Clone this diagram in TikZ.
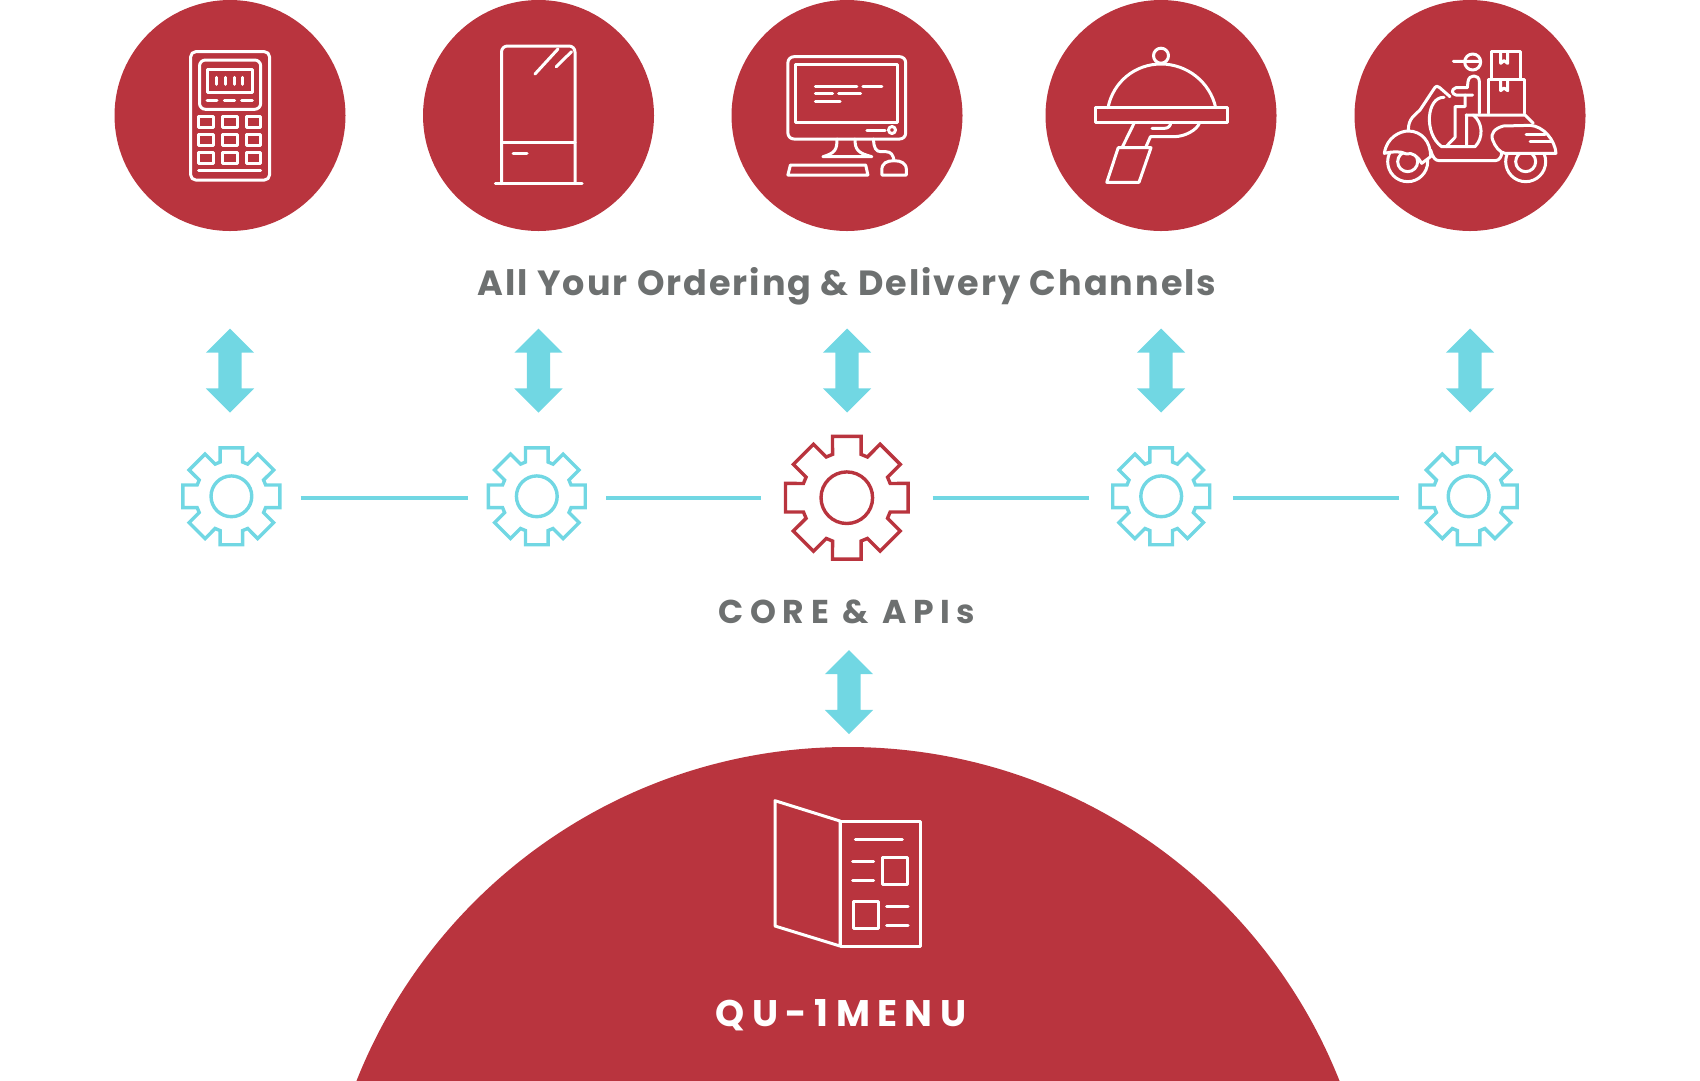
\documentclass[tikz,border=0pt]{standalone}
\usepackage{fontspec}
\setmainfont{Poppins}
\usepackage{tikz}
\usetikzlibrary{shapes.arrows}
\definecolor{qured}{HTML}{B9343E}
\definecolor{qucyan}{HTML}{71D7E3}
\definecolor{qugray}{HTML}{6D7070}
\newcommand{\gearat}[4]{\draw[shift={(#1)},yshift=#4,draw=#2,gearline] (-18.2:{36.8*#3})
	\foreach \a in {0,45,...,315} {-- ({\a-18.2}:{36.8*#3}) -- ({\a-13.1}:{50.8*#3}) -- ({\a+13.1}:{50.8*#3}) -- ({\a+18.2}:{36.8*#3})} -- cycle
	(0,0) circle ({20.8*#3});}
\begin{document}
\begin{tikzpicture}[x=1pt,y=-1pt,
	channel/.style={circle,fill=qured,minimum size=231pt,inner sep=0pt},
	twoway/.style={double arrow,fill=qucyan,rotate=90,minimum height=84pt,inner sep=11.5pt,double arrow head extend=12.5pt,double arrow tip angle=90,text width=0pt},
	gearnode/.style={circle,minimum size=#1,inner sep=0pt},
	gearline/.style={line width=3.4pt,line join=miter},
	link/.style={draw=qucyan,line width=4pt},
	icon/.style={draw=white,line width=3pt,line cap=round,line join=round},
	caption/.style={text=qugray,font=\bfseries}]
\useasboundingbox (0,0) rectangle (1700,1080);
\foreach \n/\x in {1/230,2/538.5,3/847,4/1161,5/1470}{
	\node [channel] (c\n) at (\x,115.5) {};
	\node [twoway] (a\n) at (\x,370.5) {};
}
\node [caption] (chan) at (847,286) {\fontsize{35}{40}\selectfont\addfontfeature{LetterSpace=5.7}All Your Ordering \& Delivery Channels};
\foreach \n/\x/\c/\s/\w/\d in {1/231.4/qucyan/.98/138pt/2pt,2/536.8/qucyan/.98/138pt/2pt,3/846.8/qured/1.24/171pt/.6pt,4/1161.2/qucyan/.98/144pt/2pt,5/1468.6/qucyan/.98/138pt/2pt}{
	\node [gearnode=\w] (g\n) at (\x,498.3) {};
	\gearat{g\n}{\c}{\s}{\d}
}
\draw [link] (g1) -- (g2);
\draw [link] (g2) -- (g3);
\draw [link] (g3) -- (g4);
\draw [link] (g4) -- (g5);
\node [caption] (core) at (847,611.5) {\fontsize{33}{40}\selectfont\addfontfeature{LetterSpace=20}CORE \& APIs};
\node [twoway] (a6) at (849,692) {};
\begin{scope}
\clip (0,0) rectangle (1700,1080);
\fill [qured] (848,1275.5) circle (528.5);
\end{scope}
\node [text=white,font=\bfseries] (menu) at (841,1015) {\fontsize{37}{40}\selectfont\addfontfeature{LetterSpace=20}QU-1MENU};
% calculator
\draw [icon,rounded corners=5pt] (190.7,51.7) rectangle (269.5,180);
\draw [icon,rounded corners=6pt] (199.5,60) rectangle (260.7,109.3);
\draw [icon] (207,69) rectangle (252,92.3);
\foreach \x in {216.7,225,234,242.7} \draw [icon] (\x,77.3) -- (\x,84.3);
\draw [icon] (207,100) -- (217,100) (224.4,100) -- (234.7,100) (241.6,100) -- (252.3,100);
\foreach \x in {198.7,222.5,246} \foreach \y in {116.7,134.3,152} \draw [icon] (\x,\y) rectangle ++(14.5,11);
\draw [icon] (198.7,170) -- (260.7,170);
% kiosk
\draw [icon,rounded corners=6pt] (501.5,183.5) -- (501.5,46) -- (575,46) -- (575,183.5);
\draw [icon] (501.5,142.3) -- (575,142.3) (513,153.7) -- (527,153.7) (495.3,183.7) -- (582.2,183.7);
\draw [icon] (558,49) -- (535,74) (571.5,51.7) -- (556.2,66.7);
% monitor
\draw [icon,rounded corners=6pt] (787.9,56.7) rectangle (905.7,139);
\draw [icon] (795.4,64) rectangle (897.5,122.3);
\draw [icon] (815.4,86) -- (856.8,86) (862.9,86) -- (881.8,86) (815.4,93.3) -- (832.5,93.3) (838.6,93.3) -- (860.7,93.3) (815.4,101) -- (840,101) (866.8,130) -- (885,130);
\draw [icon] (892,130) circle (3.5);
\draw [icon] (837,139) .. controls (837,150) and (835,153) .. (822.9,156.7) -- (871.8,156.7) .. controls (858,153) and (855,150) .. (855,139);
\draw [icon] (873.6,139) .. controls (873.6,148) and (876,151.7) .. (881,151.7) -- (886,151.7) .. controls (891,151.7) and (893,155) .. (894,160);
\draw [icon] (881.8,175) -- (881.8,170) .. controls (881.8,163) and (887,160.7) .. (894,160.7) .. controls (901,160.7) and (906.4,163) .. (906.4,170) -- (906.4,175) -- cycle;
\draw [icon] (790.4,165) -- (865.7,165) -- (867.9,175) -- (787.9,175) -- cycle;
% cloche
\draw [icon] (1161,55.7) circle (7.5);
\draw [icon] (1108,107.7) .. controls (1113,82) and (1135,64) .. (1161,64) .. controls (1187,64) and (1210,82) .. (1215.7,107.7);
\draw [icon] (1095,107.7) rectangle (1227,122.3);
\draw [icon] (1134.3,122.7) -- (1122.5,146.7);
\draw [icon] (1199.6,122.7) .. controls (1197,130) and (1185,136.7) .. (1173.6,136.7) -- (1150.4,136.7) -- (1146,146.7);
\draw [icon] (1170.7,122.7) .. controls (1170.7,126) and (1168,128.3) .. (1164.6,128.3) -- (1152,128.3);
\draw [icon] (1118.2,147.7) -- (1151,147.7) -- (1139,182.3) -- (1106.8,182.3) -- cycle;
% scooter
\begin{scope}[shift={(1340,0)},x=1pt/3,y=-1pt/3]
\draw [icon] (203,485) circle (60) (203,485) circle (30);
\draw [icon] (557,485) circle (60) (557,485) circle (30);
\draw [icon,fill=qured] (133,460) .. controls (140,412) and (180,393) .. (205,393) .. controls (245,393) and (272,425) .. (272,470) -- (245,490) .. controls (235,470) and (215,455) .. (200,462) .. controls (180,452) and (155,455) .. (133,460) -- cycle;
\draw [icon,fill=qured] (490,378) .. controls (465,385) and (450,400) .. (458,420) .. controls (465,440) and (480,458) .. (495,460) -- (648,460) .. controls (645,420) and (610,378) .. (570,376) -- cycle;
\draw [icon] (558,403) -- (615,403) (570,425) -- (635,425);
\draw [icon] (378,345) -- (555,345) -- (580,370);
\draw [icon] (445,340) -- (445,238) -- (552,238) -- (552,340) (453,238) -- (453,155) -- (541,155) -- (541,238);
\draw [icon] (482,157) -- (482,190) -- (492,182) -- (503,190) -- (503,157) (482,240) -- (482,272) -- (492,264) -- (503,272) -- (503,240);
\draw [icon] (398,186) circle (24) (340,184) -- (420,184);
\draw [icon] (398,285) -- (348,285) .. controls (335,282) and (332,268) .. (348,263) -- (382,263) -- (384,245) .. controls (386,222) and (418,222) .. (418,245) -- (418,340);
\draw [icon] (375,285) -- (375,320) -- (345,320) -- (345,412) -- (320,438);
\draw [icon] (380,345) -- (380,440) (400,345) .. controls (430,370) and (430,415) .. (405,440) -- (320,440);
\draw [icon] (330,290) -- (298,262) .. controls (292,258) and (288,258) .. (285,262) -- (240,330) .. controls (225,345) and (205,355) .. (205,390);
\draw [icon] (312,292) .. controls (260,290) and (250,400) .. (305,440) -- (320,440);
\draw [icon] (272,450) .. controls (278,472) and (285,482) .. (298,482) -- (465,482) .. controls (478,482) and (485,470) .. (485,458);
\end{scope}
% menu
\draw [icon] (840,821) -- (775,800.7) -- (775,926) -- (840,946) -- cycle;
\draw [icon] (840,821) rectangle (920.3,946);
\draw [icon] (855.3,839) -- (902.3,839) (852.7,861.7) -- (873.7,861.7) (852.7,880) -- (873.7,880) (886.7,906.7) -- (908,906.7) (886.7,925) -- (908,925);
\draw [icon] (882.7,857.3) rectangle (907.7,884.3) (853.3,901.7) rectangle (878,928.7);
\end{tikzpicture}
\end{document}
